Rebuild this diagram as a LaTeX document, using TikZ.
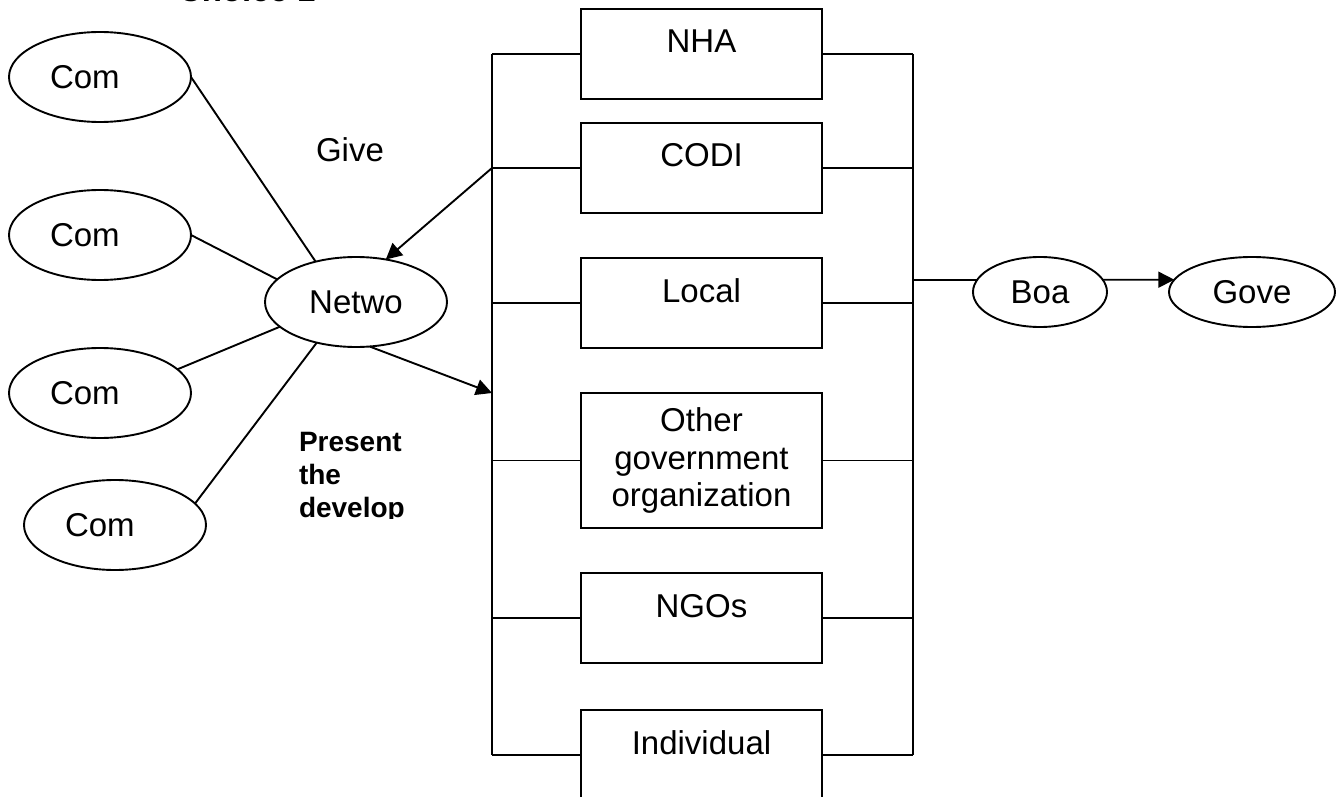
\documentclass[tikz,border=0pt]{standalone}
\usepackage{fontspec}
\setmainfont{Liberation Sans}
\usetikzlibrary{shapes.geometric,arrows.meta}

\begin{document}
\begin{tikzpicture}[x=0.5pt,y=-0.5pt,
    line width=0.95pt,
    every node/.style={font=\fontsize{16.5}{18.7}\selectfont, inner sep=0pt, outer sep=0pt},
    comm/.style={draw, ellipse, minimum width=91pt, minimum height=45pt, text width=50pt, align=left},
    oval/.style={draw, ellipse, minimum height=35pt},
    orgbox/.style={draw, minimum width=120.5pt, align=center, anchor=north},
    toptext/.style={text height=22pt, text depth=23pt},
    arr/.style={-{Triangle[length=8pt,width=8pt]}}]

  \useasboundingbox (0,0) rectangle (1340,797);

  % title, cut by the page edge
  \node[anchor=base west, font=\fontsize{16.5}{18.7}\selectfont\bfseries] (title) at (178,1.5) {Choice 1};

  \node[comm] (com1) at (100,77) {Com};
  \node[comm] (com2) at (100,235) {Com};
  \node[comm] (com3) at (100,393) {Com};
  \node[comm] (com4) at (115,525) {Com};
  \node[draw, ellipse, minimum width=91pt, minimum height=45pt] (net) at (356,302) {Netwo};

  \node (give) at (350,150) {Give};
  \begin{scope}
    \clip (280,400) rectangle (480,518);
    \node[anchor=north west, align=left, font=\fontsize{14}{16.5}\selectfont\bfseries] (present) at (299,432) {Present\\the\\develop};
  \end{scope}

  \node[orgbox, toptext] (nha) at (701.5,9) {NHA};
  \node[orgbox, toptext] (codi) at (701.5,123) {CODI};
  \node[orgbox, toptext] (local) at (701.5,258) {Local};
  \node[orgbox, minimum height=67.5pt] (other) at (701.5,393) {Other\\government\\organization};
  \node[orgbox, toptext] (ngos) at (701.5,573) {NGOs};
  \node[orgbox, toptext] (indiv) at (701.5,710) {Individual};

  \node[oval, minimum width=67pt] (boa) at (1040,292) {Boa};
  \node[oval, minimum width=83pt] (gove) at (1252,292) {Gove};

  \coordinate (lbus) at (492,0);
  \coordinate (rbus) at (913,0);

  \draw (nha.west -| lbus) -- (indiv.west -| lbus);
  \draw (nha.east -| rbus) -- (indiv.east -| rbus);
  \foreach \b in {nha,codi,local,other,ngos,indiv} {
    \draw (\b.west) -- (\b.west -| lbus);
    \draw (\b.east) -- (\b.east -| rbus);
  }

  \draw (com1.east) -- (net.135);
  \draw (com2.east) -- (net.164);
  \draw (com3.17) -- (net.198);
  \draw (com4.15) -- (net.226);

  \draw[arr] (codi.west -| lbus) -- (net.55);
  \draw[arr] (net.-73) -- (lbus |- other.north);

  \draw (rbus |- boa.169) -- (boa.169);
  \draw[arr] (boa.11) -- (gove.171);
\end{tikzpicture}
\end{document}
